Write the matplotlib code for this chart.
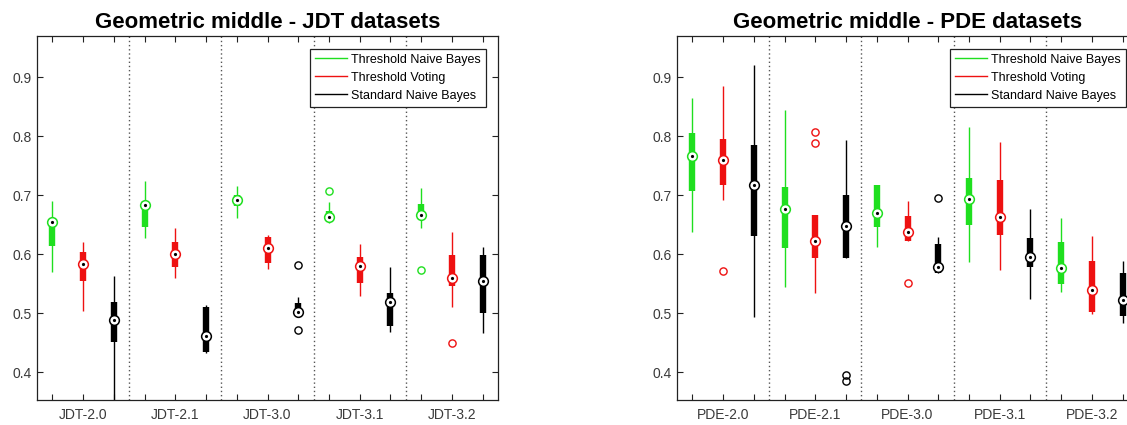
import matplotlib
matplotlib.use("Agg")
import matplotlib.pyplot as plt
from matplotlib.lines import Line2D

plt.rcParams['font.family'] = ['Liberation Sans', 'DejaVu Sans']

methods = ["Threshold Naive Bayes", "Threshold Voting", "Standard Naive Bayes"]
colors = ["#1fdf1f", "#ee1111", "#000000"]

jdt_labels = ["JDT-2.0", "JDT-2.1", "JDT-3.0", "JDT-3.1", "JDT-3.2"]
pde_labels = ["PDE-2.0", "PDE-2.1", "PDE-3.0", "PDE-3.1", "PDE-3.2"]

# ---- JDT data (per method, per dataset) ----
jdt_lo = [[0.570, 0.628, 0.661, 0.653, 0.645],
          [0.504, 0.559, 0.575, 0.529, 0.510],
          [0.300, 0.432, 0.495, 0.469, 0.466]]
jdt_q1 = [[0.614, 0.647, 0.681, 0.656, 0.659],
          [0.554, 0.579, 0.586, 0.552, 0.546],
          [0.451, 0.435, 0.499, 0.479, 0.501]]
jdt_med = [[0.655, 0.683, 0.692, 0.664, 0.666],
           [0.584, 0.601, 0.611, 0.580, 0.559],
           [0.489, 0.461, 0.503, 0.519, 0.554]]
jdt_q3 = [[0.658, 0.690, 0.700, 0.673, 0.685],
          [0.604, 0.621, 0.630, 0.595, 0.598],
          [0.519, 0.510, 0.517, 0.534, 0.598]]
jdt_hi = [[0.691, 0.724, 0.715, 0.689, 0.713],
          [0.620, 0.644, 0.632, 0.618, 0.638],
          [0.563, 0.514, 0.528, 0.578, 0.612]]
jdt_out = [[[], [], [], [0.708], [0.573]],
           [[], [], [], [], [0.449]],
           [[], [], [0.582, 0.471], [], []]]

# ---- PDE data ----
pde_lo = [[0.637, 0.545, 0.613, 0.587, 0.536],
          [0.692, 0.535, 0.623, 0.573, 0.499],
          [0.494, 0.594, 0.569, 0.524, 0.484]]
pde_q1 = [[0.708, 0.611, 0.647, 0.650, 0.550],
          [0.718, 0.593, 0.623, 0.632, 0.503],
          [0.631, 0.594, 0.569, 0.579, 0.496]]
pde_med = [[0.767, 0.676, 0.670, 0.693, 0.576],
           [0.760, 0.622, 0.638, 0.663, 0.540],
           [0.717, 0.648, 0.579, 0.595, 0.523]]
pde_q3 = [[0.806, 0.714, 0.717, 0.729, 0.620],
          [0.796, 0.667, 0.665, 0.726, 0.589],
          [0.786, 0.701, 0.617, 0.627, 0.568]]
pde_hi = [[0.865, 0.845, 0.717, 0.815, 0.662],
          [0.885, 0.667, 0.690, 0.791, 0.631],
          [0.921, 0.794, 0.630, 0.676, 0.589]]
pde_out = [[[], [], [], [], []],
           [[0.571], [0.808, 0.789], [0.552], [], []],
           [[], [0.395, 0.385], [0.695], [], []]]

yticks = [0.4, 0.5, 0.6, 0.7, 0.8, 0.9]

W, H = 1127, 425
fig = plt.figure(figsize=(W / 100, H / 100), dpi=100)


def draw_panel(ax, title, labels, lo, q1, med, q3, hi, outs):
    n = len(labels)
    for m in range(3):
        c = colors[m]
        pos = [3 * g + m + 1 for g in range(n)]
        ax.vlines(pos, lo[m], hi[m], color=c, lw=1.0, zorder=2)
        ax.vlines(pos, q1[m], q3[m], color=c, lw=4.6, zorder=3, capstyle='butt')
        ax.plot(pos, med[m], linestyle='none', marker='o', ms=7,
                mfc='white', mec=c, mew=1.1, zorder=4)
        ax.plot(pos, med[m], linestyle='none', marker='o', ms=2.3,
                mfc='black', mec='black', mew=0, zorder=5)
        for g in range(n):
            if outs[m][g]:
                ax.plot([pos[g]] * len(outs[m][g]), outs[m][g], linestyle='none',
                        marker='o', ms=5.2, mfc='none', mec=c, mew=1.0, zorder=4)
    for g in range(1, n):
        ax.axvline(3 * g + 0.5, color='#555555', lw=1.0, linestyle=(0, (1, 2)), zorder=1)
    ax.set_xlim(0.5, 3 * n + 0.5)
    ax.set_ylim(0.353, 0.97)
    ax.set_yticks(yticks)
    ax.set_yticklabels([f"{v:.1f}" for v in yticks])
    xt = list(range(1, 3 * n + 1))
    ax.set_xticks(xt)
    ax.set_xticklabels([labels[(t - 1) // 3] if (t - 1) % 3 == 1 else "" for t in xt])
    ax.tick_params(direction='in', top=True, right=True, length=4, width=0.8,
                   labelsize=10, labelcolor='#3a3a3a', color='#222222')
    ax.tick_params(axis='x', pad=6)
    ax.tick_params(axis='y', pad=4)
    for s in ax.spines.values():
        s.set_linewidth(0.9)
        s.set_color('#222222')
    ax.set_title(title, fontsize=16, fontweight='bold', pad=6)
    handles = [Line2D([], [], color=colors[i], lw=1.0) for i in range(3)]
    leg = ax.legend(handles, methods, loc='upper right', fontsize=9,
                    frameon=True, fancybox=False, framealpha=1,
                    edgecolor='#222222', handlelength=2.6, handletextpad=0.3,
                    labelspacing=0.48, borderaxespad=1.0, borderpad=0.4)
    leg.get_frame().set_linewidth(0.9)


ax1 = fig.add_axes([37 / W, 1 - 400 / H, 461 / W, 364 / H])
ax2 = fig.add_axes([677 / W, 1 - 400 / H, 461 / W, 364 / H])

draw_panel(ax1, "Geometric middle - JDT datasets", jdt_labels,
           jdt_lo, jdt_q1, jdt_med, jdt_q3, jdt_hi, jdt_out)
draw_panel(ax2, "Geometric middle - PDE datasets", pde_labels,
           pde_lo, pde_q1, pde_med, pde_q3, pde_hi, pde_out)

fig.savefig("out.png", dpi=100)
